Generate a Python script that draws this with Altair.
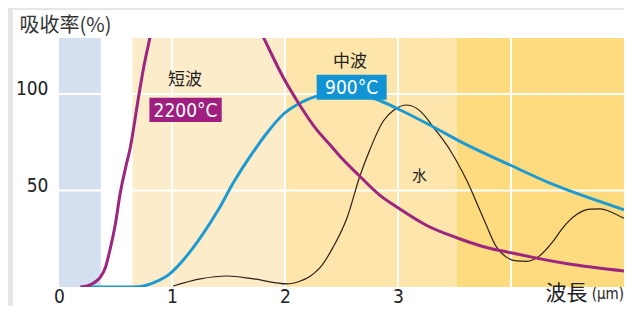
import altair as alt
import pandas as pd

# ---- data ----
x_ticks = [0, 1, 2, 3]
y_ticks = [50, 100]
grid_x = [1, 2, 3, 4]
grid_y = [50, 100]

band_start = [0.0, 0.65, 2.0, 3.52]
band_end = [0.37, 2.0, 3.52, 5.0]
band_color = ["#d4e0f0", "#fdecca", "#fde5ab", "#fddb7e"]

short_x = [0.19, 0.25, 0.30, 0.36, 0.41, 0.45, 0.50, 0.54, 0.59, 0.63, 0.70, 0.75, 0.80, 0.85,
           1.72, 1.82, 1.985, 2.13, 2.28, 2.40, 2.49, 2.66, 2.83, 3.00, 3.25, 3.52, 3.75, 4.00,
           4.50, 5.00]
short_y = [0, 0.6, 1.8, 4.7, 10, 19, 33, 48, 62, 72, 97, 114, 128, 143,
           140, 128, 108.5, 94.3, 81.5, 73.6, 67.5, 57.5, 48, 41, 32, 25.5, 21, 17.7,
           12, 8.3]

mid_x = [0.19, 0.40, 0.60, 0.72, 0.85, 0.98, 1.10, 1.25, 1.41, 1.54, 1.69, 1.84, 1.985,
         2.13, 2.28, 2.45, 2.60, 2.84, 3.02, 3.31, 3.61, 3.99, 4.35, 4.79, 5.00]
mid_y = [0, 0, 0, 0.3, 2.5, 6.8, 14, 25.5, 40, 53.7, 67.5, 79.8, 89.5,
         95.2, 98.9, 100.3, 100.2, 96.5, 91.7, 83, 73.6, 63.2, 53.7, 44.2, 40]

water_x = [1.01, 1.25, 1.49, 1.72, 2.02, 2.13, 2.22, 2.31, 2.42, 2.55, 2.66, 2.75, 2.87, 2.97,
           3.08, 3.20, 3.31, 3.46, 3.61, 3.76, 3.88, 4.05, 4.14, 4.25, 4.37, 4.45, 4.58,
           4.70, 4.79, 4.90, 5.00]
water_y = [0.5, 4.2, 5.7, 4.2, 1.6, 3.0, 5.5, 10, 20, 36, 57, 71, 86, 92,
           94.3, 91, 83, 71, 55, 35, 20, 13.5, 13.3, 16, 23.5, 30, 37.5,
           40.3, 40.5, 38.5, 35.6]

# annotation labels
name_text = ["短波", "中波", "水"]
name_x = [1.115, 2.575, 3.19]
name_y = [107, 116.5, 57.5]
name_size = [17, 17, 15]

box_text = ["2200°C", "900°C"]
box_x0 = [0.80, 2.28]
box_x1 = [1.44, 2.90]
box_y0 = [85.5, 97.0]
box_y1 = [98.0, 110.0]
box_color = ["#9e1f80", "#1294d4"]

PURPLE = "#9c2580"
BLUE = "#1d9ad2"
NUM_FONT = "Liberation Sans Narrow, DejaVu Sans Condensed, Roboto Condensed, Roboto, sans-serif"
CJK_FONT = "Noto Sans CJK SC"

W, H = 565, 249
xs = alt.Scale(domain=[0, 5], nice=False, zero=False)
ys = alt.Scale(domain=[0, 129], nice=False, zero=False)

xaxis = alt.Axis(values=x_ticks, grid=False, ticks=False, domain=False, zindex=2,
                 labelFont=NUM_FONT, labelFontSize=19, labelColor="#222",
                 labelBaseline="alphabetic", labelPadding=15, labelFlush=False,
                 title="波長", titleFont=CJK_FONT, titleFontSize=21, titleFontWeight="normal",
                 titleColor="#222", titleAnchor="start", titleAlign="left", titleX=486, titleY=12,
                 titleBaseline="alphabetic")
yaxis = alt.Axis(values=y_ticks, grid=False, ticks=False, domain=False, zindex=2,
                 labelFont=NUM_FONT, labelFontSize=19, labelColor="#222",
                 labelBaseline="alphabetic", labelPadding=11, labelOffset=1,
                 title="吸收率(%)", titleFont=CJK_FONT, titleFontSize=20, titleFontWeight="normal",
                 titleColor="#333", titleAngle=0, titleAlign="left", titleX=-40, titleY=-7,
                 titleBaseline="alphabetic")


def X(field):
    return alt.X(field, type="quantitative", scale=xs, axis=xaxis)


def Y(field):
    return alt.Y(field, type="quantitative", scale=ys, axis=yaxis)


panel = alt.Chart(pd.DataFrame({"a": [0]})).mark_rect(color="white", clip=False).encode(
    x=alt.value(-46), x2=alt.value(W), y=alt.value(-28), y2=alt.value(H + 19))

bands_df = pd.DataFrame({"x0": band_start, "x1": band_end, "c": band_color,
                         "y0": [0] * 4, "y1": [129] * 4})
bands = alt.Chart(bands_df).mark_rect().encode(
    x=X("x0"), x2="x1", y=Y("y0"), y2="y1", color=alt.Color("c:N", scale=None))

gx = alt.Chart(pd.DataFrame({"gx": grid_x})).mark_rule(color="white", strokeWidth=2).encode(x=X("gx"))
gy = alt.Chart(pd.DataFrame({"gy": grid_y})).mark_rule(color="white", strokeWidth=2).encode(y=Y("gy"))


def curve(xv, yv, color, width):
    df = pd.DataFrame({"wl": xv, "ab": yv})
    return alt.Chart(df).mark_line(color=color, strokeWidth=width, interpolate="monotone",
                                   clip=True).encode(x=X("wl"), y=Y("ab"))


water = curve(water_x, water_y, "#2a2018", 1.2)
mid = curve(mid_x, mid_y, BLUE, 3)
short = curve(short_x, short_y, PURPLE, 3)

names_df = pd.DataFrame({"t": name_text, "nx": name_x, "ny": name_y, "s": name_size})
names = alt.Chart(names_df).mark_text(font=CJK_FONT, color="#222", baseline="middle",
                                      align="center").encode(
    x=X("nx"), y=Y("ny"), text="t:N", size=alt.Size("s:Q", scale=None, legend=None))

boxes_df = pd.DataFrame({"t": box_text, "bx0": box_x0, "bx1": box_x1, "by0": box_y0,
                         "by1": box_y1, "c": box_color,
                         "cx": [(a + b) / 2 for a, b in zip(box_x0, box_x1)],
                         "cy": [(a + b) / 2 for a, b in zip(box_y0, box_y1)]})
boxes = alt.Chart(boxes_df).mark_rect().encode(
    x=X("bx0"), x2="bx1", y=Y("by0"), y2="by1", color=alt.Color("c:N", scale=None))
box_txt = alt.Chart(boxes_df).mark_text(font=NUM_FONT, fontSize=19, color="white",
                                        baseline="middle", align="center", dy=1).encode(
    x=X("cx"), y=Y("cy"), text="t:N")

unit = alt.Chart(pd.DataFrame({"u": ["(μm)"]})).mark_text(
    font=NUM_FONT, fontSize=15, color="#222", align="right", baseline="alphabetic",
    clip=False).encode(x=alt.value(W), y=alt.value(H + 12), text="u:N")

chart = alt.layer(panel, bands, gx, gy, water, mid, short, names, boxes, box_txt, unit).properties(
    width=W, height=H,
    autosize=alt.AutoSizeParams(type="none"),
    padding={"left": 51, "top": 30, "right": 0, "bottom": 19},
    background="#e6e6e6",
).configure_view(stroke=None)

chart.save("out.html", embed_options={"renderer": "svg", "actions": False})
